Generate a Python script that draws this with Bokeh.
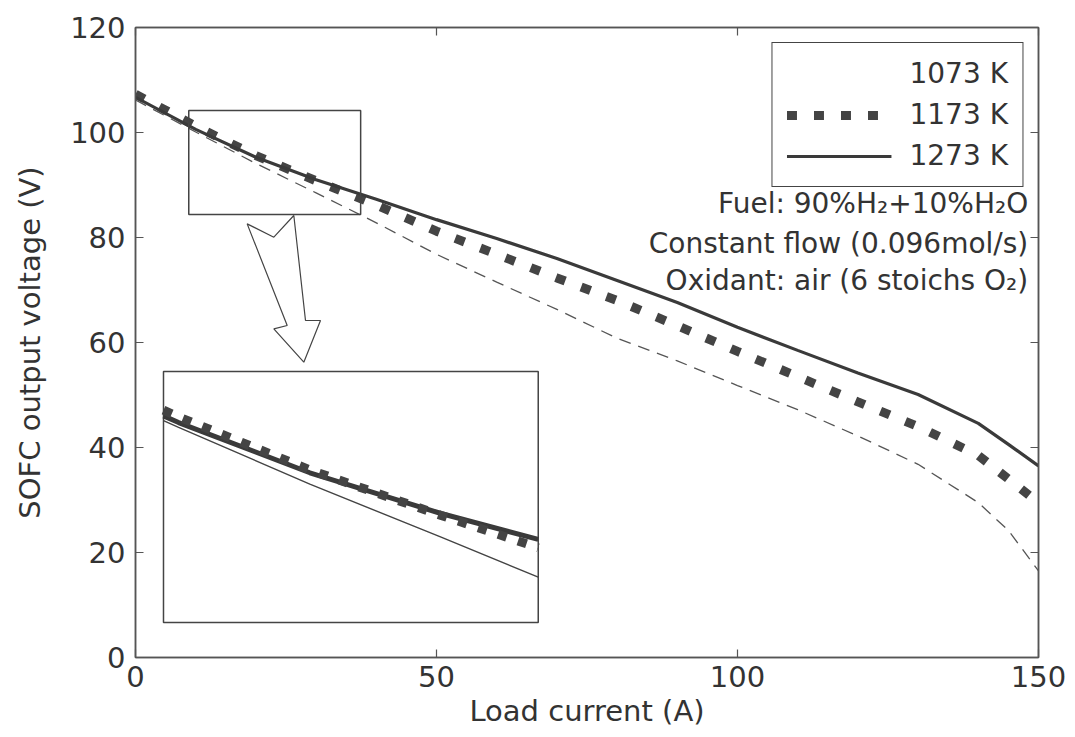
import numpy as np
from bokeh.plotting import figure
from bokeh.models import Range1d, LinearAxis, Legend, LegendItem, Label, FixedTicker
from bokeh.embed import file_html
from bokeh.resources import INLINE

# ---------------- data ----------------
current = [0, 10, 20, 30, 40, 50, 60, 70, 80, 90, 100, 110, 120, 130, 140, 145, 150]
v_1073 = [106.2, 100.1, 94.1, 88.5, 82.8, 76.8, 71.5, 66.3, 60.8, 56.5, 51.8, 47.2, 42.2, 36.8, 29.5, 24.2, 16.5]
v_1173 = [107.3, 101.2, 95.6, 90.8, 86.2, 81.2, 76.8, 72.3, 68.0, 63.2, 58.3, 53.5, 48.7, 44.0, 38.5, 34.0, 29.5]
v_1273 = [106.7, 100.6, 95.3, 91.0, 87.3, 83.4, 79.8, 76.0, 71.8, 67.6, 62.9, 58.5, 54.2, 50.1, 44.6, 40.6, 36.5]
series_labels = ["1073 K", "1173 K", "1273 K"]
x_ticks = [0, 50, 100, 150]
y_ticks = [0, 20, 40, 60, 80, 100, 120]
x_title = "Load current (A)"
y_title = "SOFC output voltage (V)"
notes = ["Fuel: 90%H\u2082+10%H\u2082O", "Constant flow (0.096mol/s)", "Oxidant: air (6 stoichs O\u2082)"]

# zoom window (data) and where the inset is drawn (data units of the main axes)
zoom_i = (8.85, 37.4)
zoom_v_box = (84.4, 104.2)
zoom_v_view = (79.5, 106.0)
inset_x = (4.65, 66.9)
inset_y = (6.67, 54.5)
arrow_i = [18.55, 22.98, 26.3, 28.24, 30.73, 27.96, 22.98, 25.2]
arrow_v = [82.6, 80.06, 84.19, 64.19, 64.19, 56.25, 62.6, 63.24]

FONT = "DejaVu Sans"
TXT = "#333333"
LC = "#3a3a3a"

p = figure(width=1075, height=737, output_backend="svg", toolbar_location=None,
           x_range=Range1d(0, 150), y_range=Range1d(0, 120),
           min_border_left=135, min_border_right=37, min_border_top=27, min_border_bottom=80,
           background_fill_color="white", border_fill_color="white")
p.grid.visible = False
p.outline_line_color = "#555555"
p.outline_line_width = 1.5

p.add_layout(LinearAxis(), "right")
p.add_layout(LinearAxis(), "above")

for ax in p.xaxis:
    ax.ticker = FixedTicker(ticks=x_ticks)
for ax in p.yaxis:
    ax.ticker = FixedTicker(ticks=y_ticks)
for ax in p.axis:
    ax.axis_line_color = "#555555"
    ax.axis_line_width = 1.5
    ax.major_tick_line_color = "#555555"
    ax.major_tick_line_width = 1.2
    ax.major_tick_in = 8
    ax.major_tick_out = 0
    ax.minor_tick_in = 0
    ax.minor_tick_out = 0
    ax.major_label_text_font = FONT
    ax.major_label_text_font_size = "29px"
    ax.major_label_text_color = TXT
    ax.axis_label_text_font = FONT
    ax.axis_label_text_font_size = "29px"
    ax.axis_label_text_font_style = "normal"
    ax.axis_label_text_color = TXT

for ax in (p.right[0], p.above[0]):
    ticks = y_ticks if ax in p.right else x_ticks
    ax.major_label_overrides = {t: "" for t in ticks}
    ax.major_label_standoff = 0
    ax.major_label_text_font_size = "1px"

p.below[0].major_label_standoff = 8
p.below[0].axis_label = x_title
p.below[0].axis_label_standoff = 4
p.left[0].major_label_standoff = 10
p.left[0].axis_label = y_title
p.left[0].axis_label_standoff = 20

# ---------------- main curves ----------------
r1073 = p.line(current, v_1073, line_color="#555555", line_width=1.3, line_dash="12 8")
r1173 = p.line(current, v_1173, line_color="#444444", line_width=9, line_dash="10 17")
r1273 = p.line(current, v_1273, line_color=LC, line_width=3.2)

# faint legend sample for 1073 K (as in the reference)
leg1073 = p.line([], [], line_color="#e2e2e2", line_width=1.3, line_dash="12 8")

# ---------------- zoom box, arrow, inset ----------------
p.quad(left=[zoom_i[0]], right=[zoom_i[1]], bottom=[zoom_v_box[0]], top=[zoom_v_box[1]],
       fill_color=None, line_color="#444444", line_width=1.5)
p.patch(arrow_i, arrow_v, fill_color="white", line_color="#444444", line_width=1.2)
p.quad(left=[inset_x[0]], right=[inset_x[1]], bottom=[inset_y[0]], top=[inset_y[1]],
       fill_color="white", line_color="#444444", line_width=1.5)


def to_inset(vals):
    c = np.asarray(current, float)
    v = np.asarray(vals, float)
    inside = (c > zoom_i[0]) & (c < zoom_i[1])
    xs = np.concatenate([[zoom_i[0]], c[inside], [zoom_i[1]]])
    ys = np.concatenate([[np.interp(zoom_i[0], c, v)], v[inside], [np.interp(zoom_i[1], c, v)]])
    X = inset_x[0] + (xs - zoom_i[0]) / (zoom_i[1] - zoom_i[0]) * (inset_x[1] - inset_x[0])
    Y = inset_y[0] + (ys - zoom_v_view[0]) / (zoom_v_view[1] - zoom_v_view[0]) * (inset_y[1] - inset_y[0])
    return X, Y


X, Y = to_inset(v_1073)
p.line(X, Y, line_color="#444444", line_width=1.4)
X, Y = to_inset(v_1273)
p.line(X, Y, line_color=LC, line_width=5)
X, Y = to_inset(v_1173)
p.line(X, Y, line_color="#444444", line_width=9, line_dash="9 12")

# ---------------- legend ----------------
legend = Legend(items=[LegendItem(label=series_labels[0], renderers=[leg1073]),
                       LegendItem(label=series_labels[1], renderers=[r1173]),
                       LegendItem(label=series_labels[2], renderers=[r1273])],
                location="top_right", margin=15,
                glyph_width=105, glyph_height=30, label_standoff=18,
                padding=14, spacing=8,
                label_text_font=FONT, label_text_font_size="28px", label_text_color=TXT,
                border_line_color="#444444", border_line_width=1.5, border_line_alpha=1.0,
                background_fill_color="white", background_fill_alpha=1.0)
p.add_layout(legend, "center")

# ---------------- notes ----------------
note_y = [86.5, 78.9, 71.8]
for txt, yy in zip(notes, note_y):
    p.add_layout(Label(x=148.3, y=yy, text=txt, text_align="right", text_baseline="middle",
                       text_font=FONT, text_font_size="28px", text_color=TXT))

open("out.html", "w").write(file_html(p, INLINE))
